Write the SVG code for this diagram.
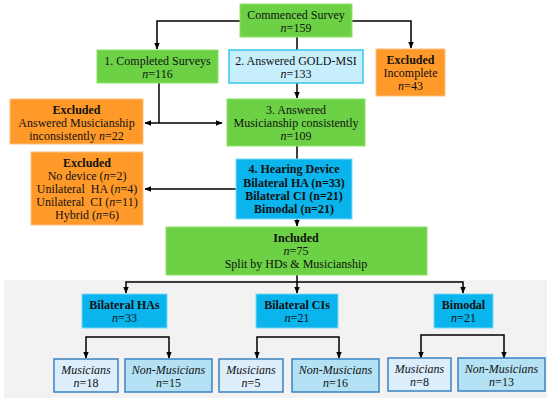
<svg xmlns="http://www.w3.org/2000/svg" width="550" height="403" viewBox="0 0 550 403" font-family="'Liberation Serif', 'Times New Roman', 'DejaVu Serif', serif">
<defs>
<marker id="ah" viewBox="0 0 10 10" refX="9" refY="5" markerWidth="7" markerHeight="7" orient="auto-start-reverse" markerUnits="userSpaceOnUse"><path d="M0,1 L10,5 L0,9 z" fill="#000"/></marker>
<style>
text{font-family:'Liberation Serif','Times New Roman','DejaVu Serif',serif;font-size:12px;fill:#111;text-anchor:middle}
.b{font-weight:bold}
.i{font-style:italic}
.green{fill:#6cd145;stroke:#8ee06a;stroke-width:1}
.orange{fill:#ff9a2a;stroke:#ffc080;stroke-width:1}
.lblue{fill:#c6eefb;stroke:#38c6ee;stroke-width:1.5}
.blue{fill:#0ab4ec;stroke:#7dd8f6;stroke-width:1}
.mus{fill:#dcedfb;stroke:#3a82c0;stroke-width:1.5}
.non{fill:#b4e2f4;stroke:#3a82c0;stroke-width:1.5}
.c{fill:none;stroke:#000;stroke-width:1.5}
</style>
</defs>
<rect x="0" y="0" width="550" height="403" fill="#fff"/>
<rect x="4" y="280" width="543" height="118" fill="#f2f2f2"/>

<g id="connectors">
<path class="c" d="M240,21 H157 V49" marker-end="url(#ah)"/>
<path class="c" d="M352,21 H411 V48" marker-end="url(#ah)"/>
<path class="c" d="M297,37 V50"/>
<path class="c" d="M297,83 V98" marker-end="url(#ah)"/>
<path class="c" d="M159,83 V123"/>
<path class="c" d="M145,123 H222" marker-start="url(#ah)" marker-end="url(#ah)"/>
<path class="c" d="M297,146 V159"/>
<path class="c" d="M236,189 H145" marker-end="url(#ah)"/>
<path class="c" d="M297,219 V226" marker-end="url(#ah)"/>
<path class="c" d="M297,275 V282"/>
<path class="c" d="M126,293 V282 H463 V293" marker-start="url(#ah)" marker-end="url(#ah)"/>
<path class="c" d="M297,282 V293" marker-end="url(#ah)"/>
<path class="c" d="M86,358 V337 H169 V358" marker-start="url(#ah)" marker-end="url(#ah)"/>
<path class="c" d="M257,358 V337 H339 V358" marker-start="url(#ah)" marker-end="url(#ah)"/>
<path class="c" d="M421,358 V335 H504 V358" marker-start="url(#ah)" marker-end="url(#ah)"/>
</g>

<g id="commenced"><rect class="green" x="240" y="4" width="112" height="33"/><text x="296" y="19">Commenced Survey</text><text x="296" y="32"><tspan class="i">n</tspan>=159</text></g>
<g id="completed"><rect class="green" x="97" y="50" width="121" height="33"/><text x="157.5" y="65">1. Completed Surveys</text><text x="157.5" y="78"><tspan class="i">n</tspan>=116</text></g>
<g id="goldmsi"><rect class="lblue" x="229" y="50" width="134" height="33"/><text x="296" y="65">2. Answered GOLD-MSI</text><text x="296" y="78"><tspan class="i">n</tspan>=133</text></g>
<g id="excl-incomplete"><rect class="orange" x="376" y="49" width="69" height="47"/><text class="b" x="410.5" y="64">Excluded</text><text x="410.5" y="77">Incomplete</text><text x="410.5" y="90"><tspan class="i">n</tspan>=43</text></g>
<g id="excl-inconsistent"><rect class="orange" x="10" y="99" width="133" height="45"/><text class="b" x="76.5" y="114">Excluded</text><text x="76.5" y="127">Answered Musicianship</text><text x="76.5" y="140">inconsistently <tspan class="i">n</tspan>=22</text></g>
<g id="consistent"><rect class="green" x="227" y="99" width="138" height="47"/><text x="296" y="114">3. Answered</text><text x="296" y="127">Musicianship consistently</text><text x="296" y="140"><tspan class="i">n</tspan>=109</text></g>
<g id="excl-device"><rect class="orange" x="31" y="152" width="112" height="73"/><text class="b" x="87" y="167">Excluded</text><text x="87" y="180">No device (<tspan class="i">n</tspan>=2)</text><text x="87" y="193" xml:space="preserve">Unilateral  HA (<tspan class="i">n</tspan>=4)</text><text x="87" y="206" xml:space="preserve">Unilateral  CI (<tspan class="i">n</tspan>=11)</text><text x="87" y="219">Hybrid (<tspan class="i">n</tspan>=6)</text></g>
<g id="hearing"><rect class="blue" x="236" y="159" width="116" height="60"/><text class="b" x="294" y="173">4. Hearing Device</text><text class="b" x="294" y="187">Bilateral HA (n=33)</text><text class="b" x="294" y="200">Bilateral CI (n=21)</text><text class="b" x="294" y="213">Bimodal (n=21)</text></g>
<g id="included"><rect class="green" x="166" y="227" width="261" height="48"/><text class="b" x="296" y="242">Included</text><text x="296" y="255"><tspan class="i">n</tspan>=75</text><text x="296" y="268">Split by HDs &amp; Musicianship</text></g>
<g id="bil-ha"><rect class="blue" x="82" y="294" width="85" height="34"/><text class="b" x="124.5" y="309">Bilateral HAs</text><text x="124.5" y="322"><tspan class="i">n</tspan>=33</text></g>
<g id="bil-ci"><rect class="blue" x="256" y="294" width="82" height="34"/><text class="b" x="297" y="309">Bilateral CIs</text><text x="297" y="322"><tspan class="i">n</tspan>=21</text></g>
<g id="bimodal"><rect class="blue" x="434" y="294" width="59" height="34"/><text class="b" x="463.5" y="309">Bimodal</text><text x="463.5" y="322"><tspan class="i">n</tspan>=21</text></g>
<g id="ha-mus"><rect class="mus" x="54" y="359" width="64" height="33"/><text class="i" x="86" y="374">Musicians</text><text x="86" y="387"><tspan class="i">n</tspan>=18</text></g>
<g id="ha-non"><rect class="non" x="125" y="359" width="87" height="33"/><text class="i" x="168.5" y="374">Non-Musicians</text><text x="168.5" y="387"><tspan class="i">n</tspan>=15</text></g>
<g id="ci-mus"><rect class="mus" x="219" y="359" width="64" height="33"/><text class="i" x="251" y="374">Musicians</text><text x="251" y="387"><tspan class="i">n</tspan>=5</text></g>
<g id="ci-non"><rect class="non" x="292" y="359" width="87" height="33"/><text class="i" x="335.5" y="374">Non-Musicians</text><text x="335.5" y="387"><tspan class="i">n</tspan>=16</text></g>
<g id="bm-mus"><rect class="mus" x="388" y="358" width="63" height="33"/><text class="i" x="419.5" y="373">Musicians</text><text x="419.5" y="386"><tspan class="i">n</tspan>=8</text></g>
<g id="bm-non"><rect class="non" x="458" y="358" width="87" height="33"/><text class="i" x="501.5" y="373">Non-Musicians</text><text x="501.5" y="386"><tspan class="i">n</tspan>=13</text></g>
</svg>
